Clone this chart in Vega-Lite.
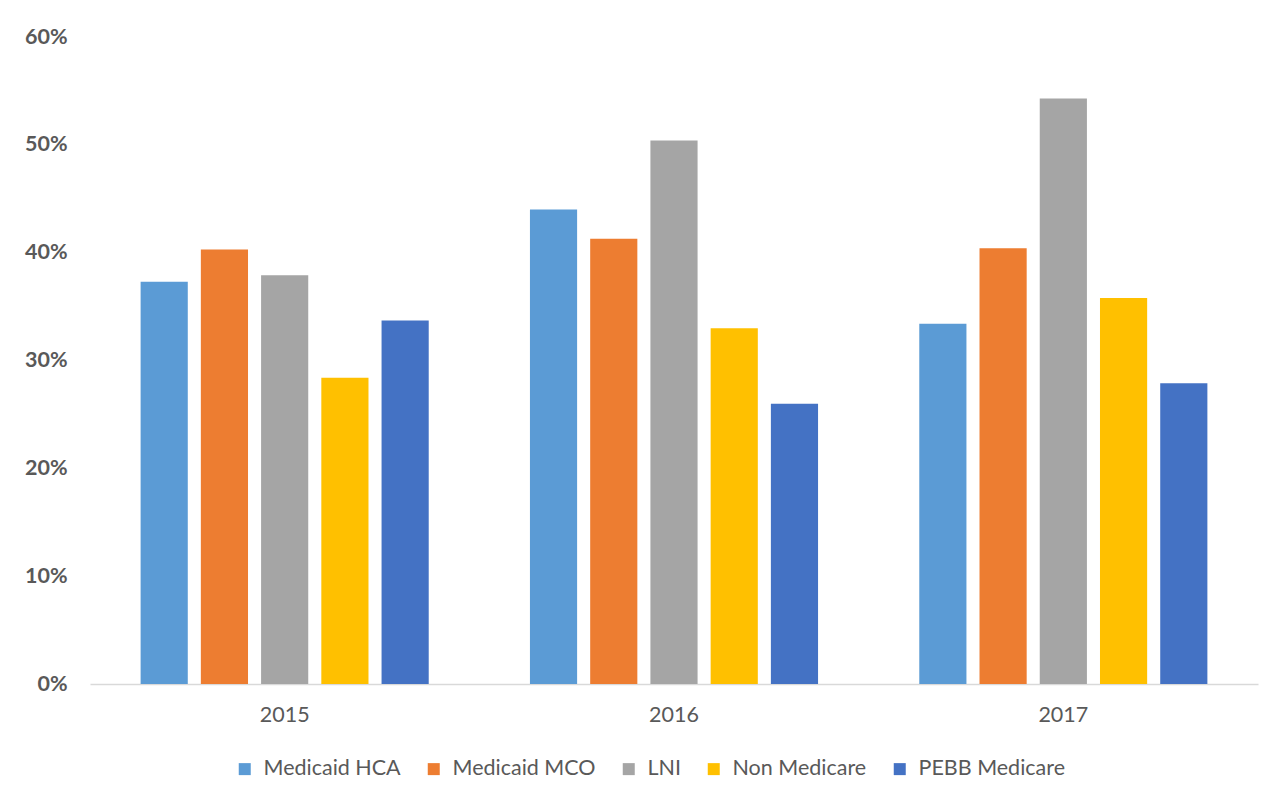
{
  "$schema": "https://vega.github.io/schema/vega-lite/v6.json",
  "width": 1168,
  "height": 647,
  "autosize": {"type": "none"},
  "padding": {"left": 90, "top": 37, "right": 27, "bottom": 118},
  "background": "white",
  "data": {
    "values": [
      {"year": "2015", "group": "Medicaid HCA", "rate": 0.373},
      {"year": "2015", "group": "Medicaid MCO", "rate": 0.403},
      {"year": "2015", "group": "LNI", "rate": 0.379},
      {"year": "2015", "group": "Non Medicare", "rate": 0.284},
      {"year": "2015", "group": "PEBB Medicare", "rate": 0.337},
      {"year": "2016", "group": "Medicaid HCA", "rate": 0.440},
      {"year": "2016", "group": "Medicaid MCO", "rate": 0.413},
      {"year": "2016", "group": "LNI", "rate": 0.504},
      {"year": "2016", "group": "Non Medicare", "rate": 0.330},
      {"year": "2016", "group": "PEBB Medicare", "rate": 0.260},
      {"year": "2017", "group": "Medicaid HCA", "rate": 0.334},
      {"year": "2017", "group": "Medicaid MCO", "rate": 0.404},
      {"year": "2017", "group": "LNI", "rate": 0.543},
      {"year": "2017", "group": "Non Medicare", "rate": 0.358},
      {"year": "2017", "group": "PEBB Medicare", "rate": 0.279}
    ]
  },
  "mark": {"type": "bar"},
  "encoding": {
    "x": {
      "field": "year",
      "type": "nominal",
      "scale": {"paddingInner": 0.26, "paddingOuter": 0.13},
      "axis": {
        "title": null,
        "labelAngle": 0,
        "ticks": false,
        "domainColor": "#D9D9D9",
        "domainWidth": 1.5,
        "labelColor": "#595959",
        "labelFont": "Lato",
        "labelFontSize": 21.5,
        "labelPadding": 20
      }
    },
    "xOffset": {
      "field": "group",
      "type": "nominal",
      "sort": ["Medicaid HCA", "Medicaid MCO", "LNI", "Non Medicare", "PEBB Medicare"],
      "scale": {"paddingInner": 0.217, "paddingOuter": 0}
    },
    "y": {
      "field": "rate",
      "type": "quantitative",
      "scale": {"domain": [0, 0.6]},
      "axis": {
        "title": null,
        "values": [0, 0.1, 0.2, 0.3, 0.4, 0.5, 0.6],
        "format": ".0%",
        "grid": false,
        "domain": false,
        "ticks": false,
        "labelColor": "#595959",
        "labelFont": "Lato",
        "labelFontSize": 21.5,
        "labelFontWeight": "bold",
        "labelPadding": 23
      }
    },
    "color": {
      "field": "group",
      "type": "nominal",
      "sort": ["Medicaid HCA", "Medicaid MCO", "LNI", "Non Medicare", "PEBB Medicare"],
      "scale": {
        "domain": ["Medicaid HCA", "Medicaid MCO", "LNI", "Non Medicare", "PEBB Medicare"],
        "range": ["#5B9BD5", "#ED7D31", "#A5A5A5", "#FFC000", "#4472C4"]
      },
      "legend": {
        "title": null,
        "orient": "none",
        "direction": "horizontal",
        "legendX": 144,
        "legendY": 721,
        "symbolType": "square",
        "symbolSize": 144,
        "symbolStrokeWidth": 0,
        "symbolOpacity": 1,
        "labelColor": "#595959",
        "labelFont": "Lato",
        "labelFontSize": 21.5,
        "labelOffset": 8,
        "columnPadding": 22
      }
    }
  },
  "config": {"view": {"stroke": null}}
}
